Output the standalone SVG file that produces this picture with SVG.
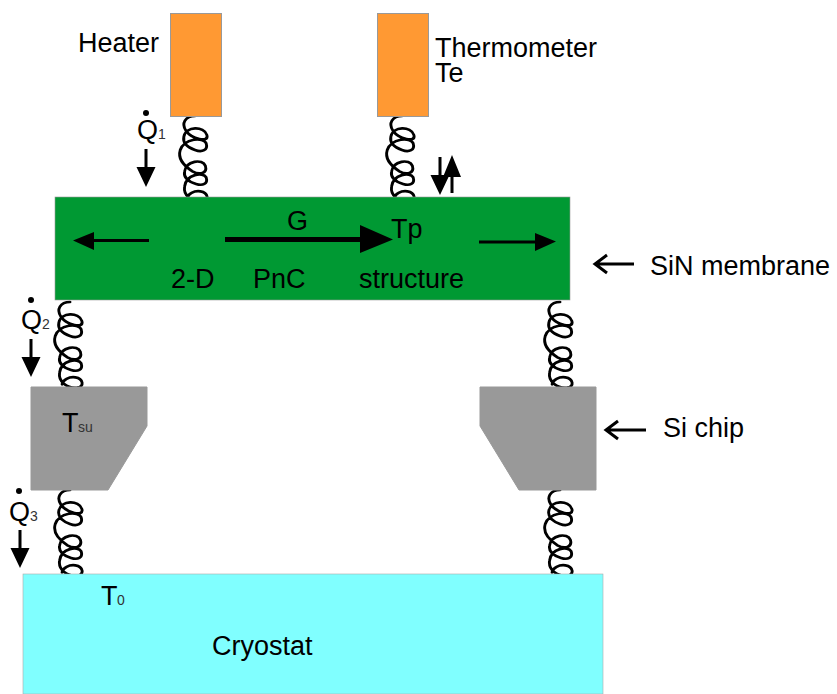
<svg xmlns="http://www.w3.org/2000/svg" width="837" height="694" viewBox="0 0 837 694">
<style>
.t{font-family:"Liberation Sans",Arial,sans-serif;font-size:27px;fill:#000}
.s{font-family:"Liberation Sans",Arial,sans-serif;font-size:14px;fill:#333}
.b{stroke:#999;stroke-width:1}
.coil{fill:none;stroke:#000;stroke-width:8;stroke-linecap:round}
</style>
<defs>
<path id="c" class="coil" d="M225,78C198,78 186,100 200,122C215,146 265,160 258,135C250,108 200,108 194,140C190,160 205,172 225,180C245,188 262,180 256,160C248,140 196,145 184,180C176,208 195,228 218,244C238,256 260,250 254,228C246,205 200,212 196,245C193,262 208,275 228,282C246,288 262,282 256,262C248,245 200,252 196,290C192,318 218,338 245,335C266,332 262,308 240,304C222,301 205,312 203,325" transform="translate(-81,-26) scale(.36,.3333)"/>
<path id="dn" d="M-1.500,0H1.500V18H9.500L0,38L-9.500,18H-1.500Z" fill="#000"/>
</defs>
<rect width="837" height="694" fill="#fff"/>
<g id="connectors">
<use href="#c" x="195" y="116"/>
<use href="#c" x="402" y="116"/>
<use href="#c" x="70" y="302"/>
<use href="#c" x="560" y="302"/>
<use href="#c" x="70" y="490"/>
<use href="#c" x="560" y="490"/>
</g>
<g id="heater"><rect class="b" x="170.500" y="13.500" width="51" height="103" fill="#ff9933"/><text class="t" x="78" y="52">Heater</text></g>
<g id="thermometer"><rect class="b" x="377.500" y="13.500" width="51" height="103" fill="#ff9933"/><text class="t" x="435" y="57">Thermometer</text><text class="t" x="435" y="82">Te</text></g>
<g id="membrane"><rect x="55" y="197" width="515" height="103" fill="#009933" stroke="#999" stroke-width=".6"/>
<text class="t" x="171" y="288">2-D</text><text class="t" x="253" y="288">PnC</text><text class="t" x="359" y="288">structure</text><text class="t" x="287" y="230">G</text><text class="t" x="391" y="238">Tp</text>
<path d="M149,239V242H94V250L73,240.500L94,232V239Z" fill="#000"/>
<path d="M225,237H360V225L393,239.500L360,253V242H225Z" fill="#000"/>
<path d="M479,240.500H535V233L556,241.500L535,251V243.500H479Z" fill="#000"/></g>
<g id="label-sin"><path d="M634,264H595M607,255L595,264L607,273" fill="none" stroke="#000" stroke-width="3"/><text class="t" x="650" y="275">SiN membrane</text></g>
<g id="chip-left"><path class="b" d="M31,387H147V426L108,490H31Z" fill="#999"/><text class="t" x="62" y="432">T</text><text class="s" x="78" y="432">su</text></g>
<g id="chip-right"><path class="b" d="M480,387H596V490H519L480,426Z" fill="#999"/></g>
<g id="label-si"><path d="M646,430H606M618,421L606,430L618,439" fill="none" stroke="#000" stroke-width="3"/><text class="t" x="663" y="437">Si chip</text></g>
<g id="cryostat"><rect x="23" y="574" width="580" height="120" fill="#80ffff" stroke="#aaa" stroke-width=".6"/><text class="t" x="212" y="655">Cryostat</text><text class="t" x="101" y="605">T</text><text class="s" x="117" y="605">0</text></g>
<g id="q1"><circle cx="146" cy="113" r="3"/><text class="t" x="137" y="139">Q</text><text class="s" x="158" y="139">1</text><use href="#dn" x="146" y="149"/></g>
<g id="q2"><circle cx="31" cy="300" r="3"/><text class="t" x="21" y="329">Q</text><text class="s" x="42" y="329">2</text><use href="#dn" x="31" y="339"/></g>
<g id="q3"><circle cx="19" cy="491" r="3"/><text class="t" x="9" y="521">Q</text><text class="s" x="30" y="521">3</text><use href="#dn" x="20" y="530"/></g>
<g id="flux"><use href="#dn" x="440" y="157"/><path d="M450.500,193V177H443L452,155L461,177H453.500V193Z" fill="#000"/></g>
</svg>
